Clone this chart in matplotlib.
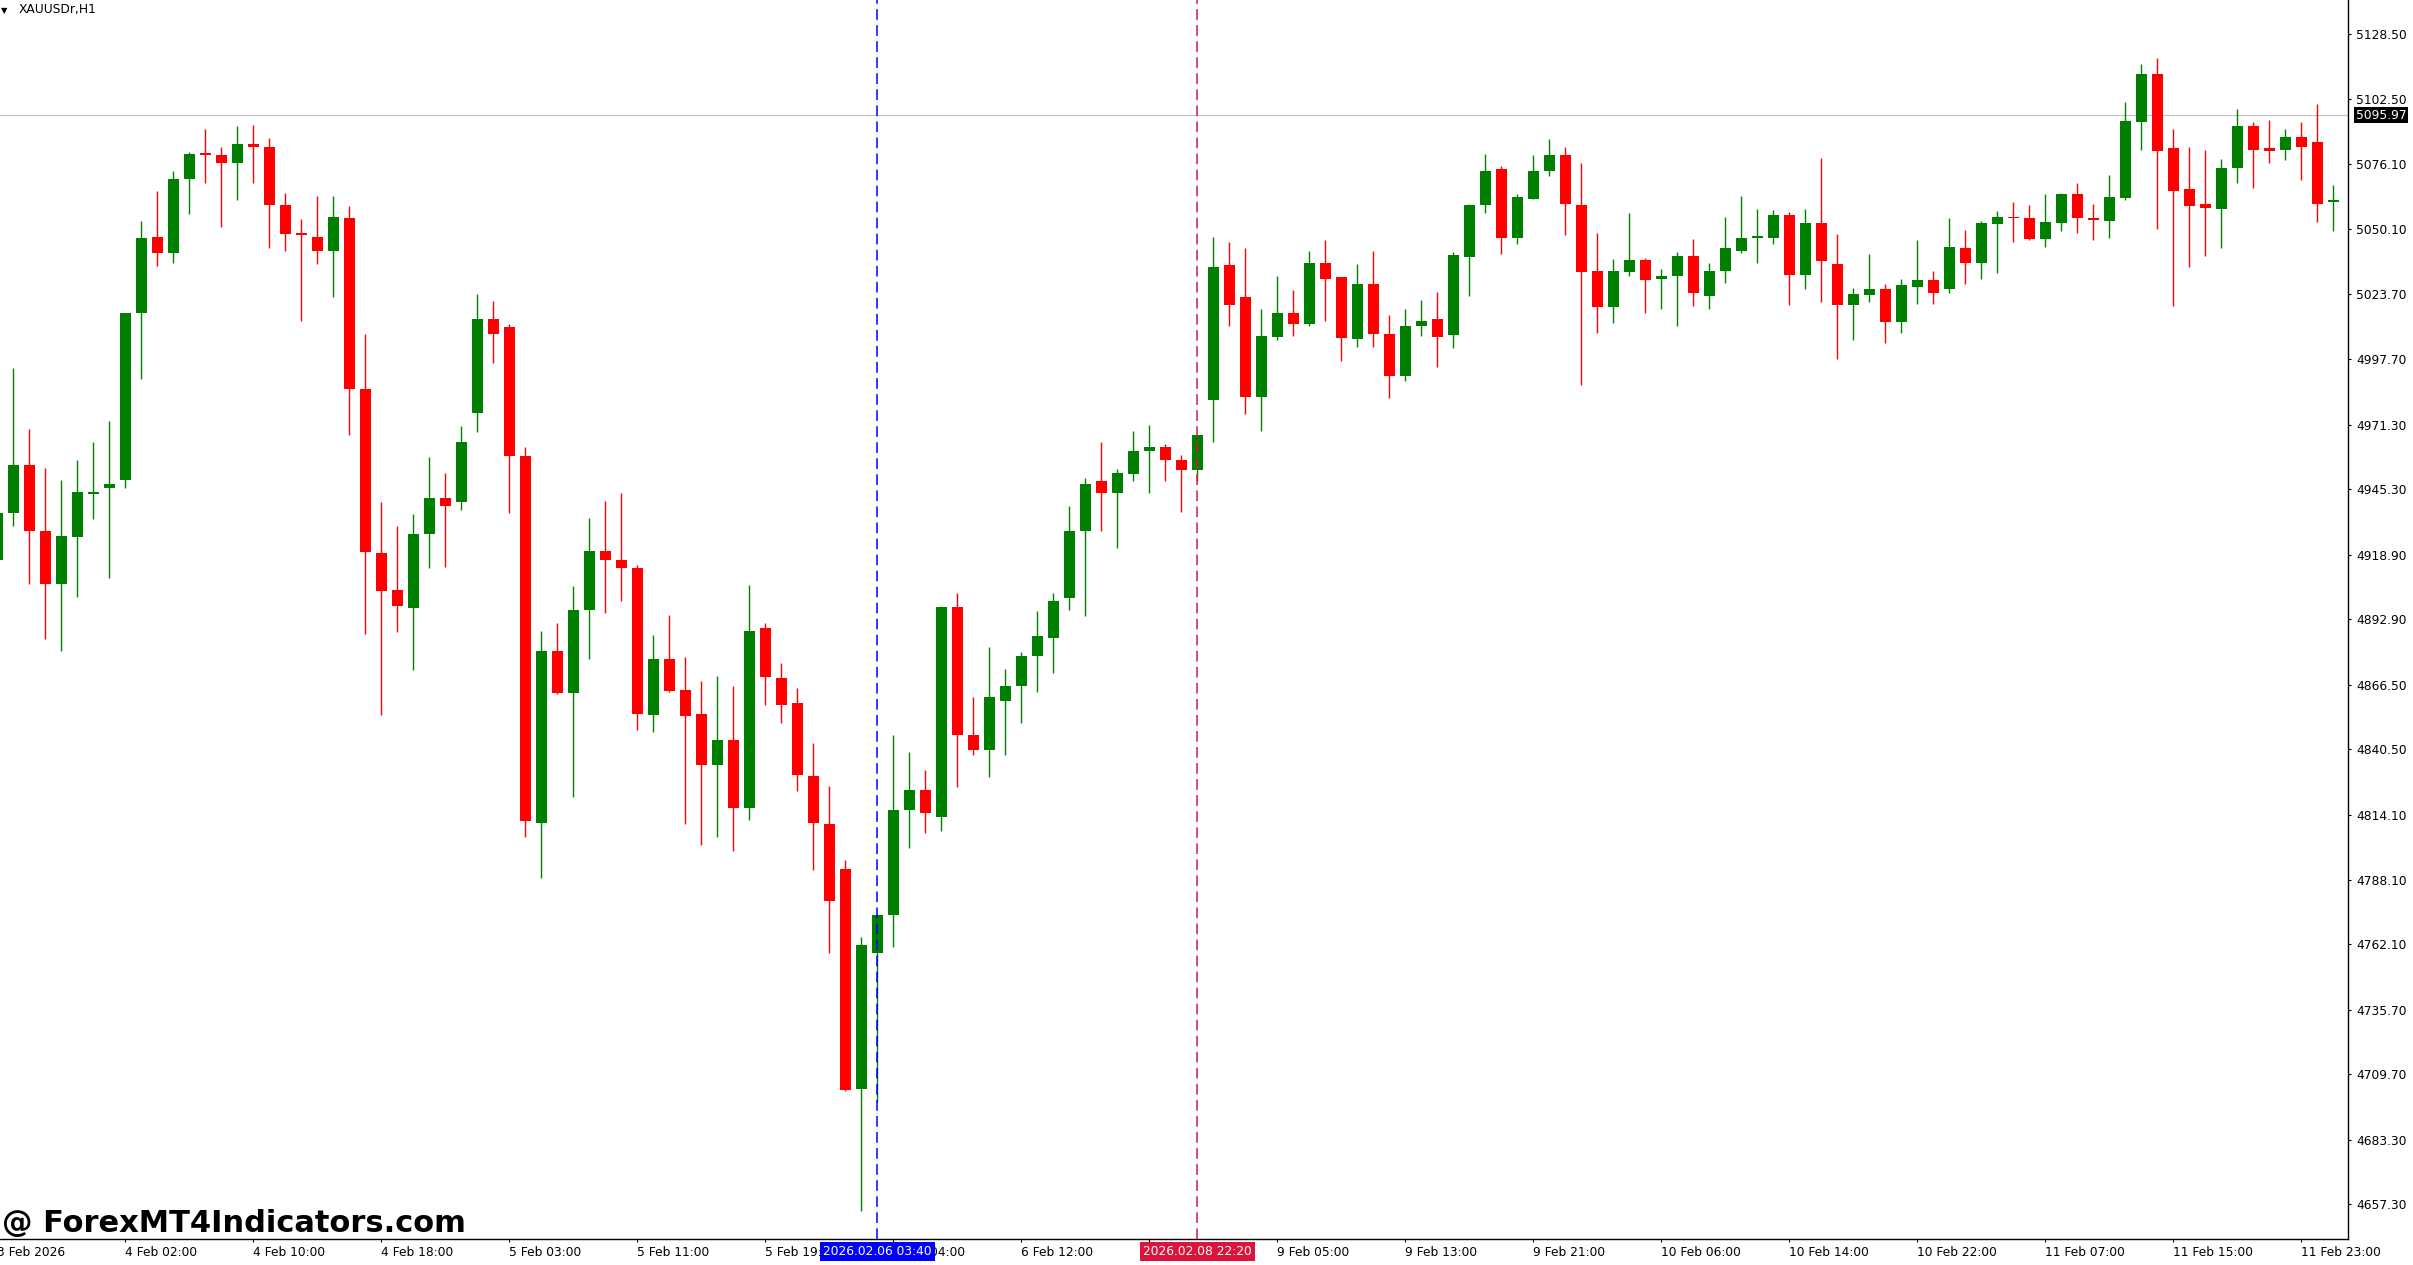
import matplotlib
matplotlib.use('Agg')
import matplotlib.pyplot as plt
import matplotlib.transforms as mtransforms

# XAUUSDr H1 candles (index 0 = 3 Feb 18:00)
opens = [4916.9, 4935.5, 4955.0, 4928.3, 4907.2, 4926.0, 4943.3, 4945.9, 4948.8, 5016.4,
         5046.9, 5040.4, 5070.3, 5080.7, 5079.8, 5076.5, 5084.3, 5083.0, 5059.9, 5048.6,
         5046.9, 5041.1, 5054.7, 4985.5, 4919.5, 4904.6, 4897.4, 4927.3, 4941.6, 4940.0,
         4976.1, 5013.8, 5010.5, 4958.5, 4810.7, 4880.2, 4863.3, 4896.5, 4920.2, 4916.6,
         4913.7, 4854.5, 4877.0, 4864.3, 4854.9, 4834.4, 4844.1, 4816.8, 4889.3, 4869.2,
         4859.1, 4829.8, 4810.3, 4792.5, 4703.7, 4758.7, 4773.9, 4816.2, 4824.3, 4813.3,
         4897.8, 4846.1, 4840.2, 4860.1, 4866.2, 4878.3, 4885.4, 4901.3, 4928.6, 4948.5,
         4943.6, 4951.4, 4960.8, 4962.4, 4956.9, 4953.0, 4981.3, 5035.6, 5022.6, 4982.6,
         5006.6, 5016.4, 5011.8, 5036.5, 5030.7, 5005.7, 5027.8, 5007.6, 4991.0, 5011.2,
         5013.8, 5007.3, 5038.8, 5059.6, 5074.2, 5046.3, 5062.2, 5073.6, 5079.8, 5059.6,
         5033.0, 5018.7, 5032.6, 5037.5, 5030.0, 5031.3, 5039.1, 5023.2, 5033.0, 5041.4,
         5046.5, 5046.3, 5055.7, 5031.7, 5052.5, 5035.9, 5019.3, 5023.5, 5025.8, 5012.8,
         5026.8, 5029.7, 5026.1, 5042.4, 5036.5, 5052.1, 5055.1, 5054.4, 5046.0, 5052.5,
         5064.2, 5054.7, 5053.4, 5062.5, 5093.1, 5112.3, 5082.7, 5066.1, 5060.3, 5058.3,
         5074.6, 5091.5, 5082.7, 5081.7, 5087.2, 5085.3, 5061.1]
highs = [4939.0, 4994.0, 4969.6, 4954.0, 4948.8, 4956.9, 4964.1, 4972.8, 5016.3, 5053.4,
         5065.5, 5073.6, 5081.1, 5090.2, 5083.0, 5091.5, 5092.1, 5086.9, 5064.5, 5054.1,
         5063.5, 5063.5, 5059.3, 5007.6, 4940.3, 4930.6, 4935.1, 4958.2, 4952.0, 4970.9,
         5023.9, 5020.9, 5011.8, 4962.1, 4888.0, 4891.3, 4906.5, 4933.8, 4940.7, 4943.6,
         4914.7, 4886.7, 4894.8, 4877.9, 4867.9, 4870.1, 4866.2, 4906.9, 4891.3, 4875.3,
         4865.3, 4843.2, 4825.9, 4796.0, 4764.8, 4774.1, 4846.1, 4839.3, 4832.1, 4898.4,
         4903.3, 4861.7, 4881.8, 4872.7, 4879.9, 4896.1, 4903.3, 4938.4, 4949.8, 4964.4,
         4953.3, 4968.9, 4971.2, 4963.4, 4958.9, 4967.2, 5046.9, 5045.0, 5042.4, 5017.7,
         5031.3, 5025.5, 5041.4, 5045.6, 5030.9, 5035.9, 5041.1, 5015.4, 5018.0, 5021.6,
         5024.8, 5040.8, 5060.3, 5080.4, 5075.5, 5064.2, 5079.8, 5086.3, 5083.0, 5076.5,
         5048.6, 5037.8, 5056.4, 5038.2, 5033.9, 5040.8, 5046.0, 5036.2, 5055.1, 5063.5,
         5058.3, 5057.7, 5057.0, 5058.3, 5078.5, 5047.9, 5026.5, 5040.1, 5027.8, 5030.0,
         5045.6, 5033.0, 5054.7, 5049.5, 5053.1, 5057.3, 5060.9, 5059.9, 5064.2, 5064.5,
         5068.7, 5060.3, 5072.0, 5101.2, 5116.5, 5119.1, 5090.2, 5083.3, 5081.7, 5078.1,
         5098.6, 5093.1, 5094.1, 5090.2, 5093.1, 5100.6, 5067.7]
lows = [4914.7, 4930.3, 4907.2, 4885.1, 4880.2, 4902.0, 4933.2, 4909.5, 4945.9, 4989.7,
        5035.2, 5036.2, 5056.0, 5068.7, 5050.8, 5061.6, 5068.4, 5042.4, 5041.1, 5013.1,
        5035.9, 5022.6, 4967.0, 4887.0, 4854.5, 4887.7, 4872.4, 4913.7, 4914.0, 4937.1,
        4968.3, 4996.2, 4935.5, 4805.1, 4788.9, 4863.0, 4821.4, 4877.0, 4895.5, 4900.4,
        4848.4, 4847.4, 4863.7, 4810.3, 4801.9, 4805.1, 4799.6, 4812.0, 4858.4, 4851.0,
        4823.7, 4792.1, 4758.7, 4702.8, 4654.7, 4698.5, 4760.9, 4800.9, 4806.8, 4807.7,
        4825.3, 4838.3, 4829.5, 4838.3, 4851.3, 4863.6, 4871.1, 4896.8, 4894.2, 4928.3,
        4921.5, 4948.5, 4943.9, 4948.5, 4936.1, 4948.5, 4964.4, 5011.2, 4975.4, 4968.6,
        5005.3, 5007.0, 5010.9, 5013.1, 4996.9, 5002.4, 5002.4, 4981.9, 4988.8, 5007.0,
        4994.6, 5002.1, 5023.2, 5056.4, 5040.1, 5044.0, 5062.0, 5071.6, 5047.6, 4987.1,
        5008.3, 5012.2, 5031.3, 5016.1, 5017.7, 5010.9, 5019.0, 5018.0, 5028.4, 5040.4,
        5036.5, 5044.0, 5019.3, 5025.8, 5020.6, 4997.9, 5005.3, 5020.6, 5004.0, 5008.3,
        5020.0, 5020.0, 5024.2, 5028.1, 5030.0, 5032.3, 5045.0, 5045.6, 5043.0, 5049.2,
        5048.6, 5045.6, 5046.6, 5061.9, 5082.0, 5049.9, 5019.0, 5034.9, 5039.1, 5042.4,
        5068.4, 5066.4, 5076.5, 5077.8, 5069.7, 5052.8, 5049.2]
closes = [4935.5, 4955.0, 4928.6, 4907.2, 4926.4, 4944.2, 4944.2, 4947.2, 5016.1, 5046.6,
          5040.4, 5070.3, 5080.4, 5079.8, 5076.5, 5084.3, 5083.3, 5059.9, 5048.2, 5047.6,
          5041.1, 5055.1, 4985.5, 4919.9, 4904.3, 4898.1, 4927.3, 4941.6, 4938.4, 4964.1,
          5013.8, 5007.9, 4958.5, 4811.6, 4880.2, 4863.3, 4896.8, 4920.5, 4916.6, 4913.4,
          4854.9, 4877.0, 4864.0, 4853.9, 4834.4, 4844.1, 4816.8, 4888.3, 4869.5, 4858.4,
          4830.2, 4810.7, 4779.5, 4703.4, 4761.9, 4773.9, 4816.2, 4824.3, 4814.9, 4897.8,
          4846.1, 4840.2, 4861.4, 4866.2, 4878.3, 4886.1, 4900.4, 4928.3, 4947.2, 4943.6,
          4951.7, 4960.8, 4962.4, 4956.9, 4953.0, 4967.0, 5034.9, 5019.6, 4982.6, 5007.0,
          5016.4, 5011.8, 5036.5, 5030.0, 5006.3, 5027.8, 5007.6, 4991.0, 5011.2, 5013.1,
          5006.6, 5039.5, 5059.6, 5073.3, 5046.3, 5062.9, 5073.6, 5079.8, 5060.3, 5032.6,
          5018.7, 5033.0, 5037.5, 5029.7, 5031.3, 5039.1, 5024.2, 5033.0, 5042.4, 5046.6,
          5046.7, 5055.7, 5031.7, 5052.5, 5037.2, 5019.6, 5023.9, 5025.8, 5012.8, 5027.4,
          5029.4, 5024.5, 5042.7, 5036.5, 5052.5, 5055.1, 5054.4, 5046.0, 5052.8, 5064.2,
          5054.4, 5053.8, 5062.9, 5093.4, 5112.3, 5081.4, 5065.5, 5059.3, 5058.6, 5074.6,
          5091.5, 5081.7, 5081.4, 5087.2, 5083.3, 5060.3, 5061.2]

price_ticks = [5128.50, 5102.50, 5076.10, 5050.10, 5023.70, 4997.70, 4971.30, 4945.30,
               4918.90, 4892.90, 4866.50, 4840.50, 4814.10, 4788.10, 4762.10, 4735.70,
               4709.70, 4683.30, 4657.30]
# '6 Feb 20:00' sits fully under the red date box in the reference, so it is left blank
time_labels = ['4 Feb 02:00', '4 Feb 10:00', '4 Feb 18:00', '5 Feb 03:00', '5 Feb 11:00',
               '5 Feb 19:00', '6 Feb 04:00', '6 Feb 12:00', '', '9 Feb 05:00',
               '9 Feb 13:00', '9 Feb 21:00', '10 Feb 06:00', '10 Feb 14:00', '10 Feb 22:00',
               '11 Feb 07:00', '11 Feb 15:00', '11 Feb 23:00']
first_label = '3 Feb 2026'
current_price = 5095.97
vlines = [(55, '2026.02.06 03:40', '#0000FF'), (75, '2026.02.08 22:20', '#DC143C')]

W, H = 2413, 1265
fig = plt.figure(figsize=(W / 100, H / 100), dpi=100)
fig.patch.set_facecolor('white')
ax = fig.add_axes([0, (H - 1239.3) / H, 2348.3 / W, 1239.3 / H])

n = len(opens)
xs = list(range(n))
cols = ['#008000' if c >= o else '#FF0000' for o, c in zip(opens, closes)]

# wicks then bodies
ax.vlines(xs, lows, highs, colors=cols, linewidth=1.0, zorder=2)
bottoms = [min(o, c) for o, c in zip(opens, closes)]
heights = [max(abs(c - o), 0.6) for o, c in zip(opens, closes)]
ax.bar(xs, heights, bottom=bottoms, width=0.69, color=cols, linewidth=0, zorder=3)

# current price line
ax.axhline(current_price, color='#C0C0C0', linewidth=0.8, zorder=1)

# vertical dashed lines with date boxes
btrans = mtransforms.blended_transform_factory(ax.transData, ax.transAxes)
for idx, txt, col in vlines:
    ax.axvline(idx, color=col, linewidth=1.1, linestyle=(0, (7, 3.5)), zorder=4)
    ax.annotate(txt, xy=(idx, 0), xycoords=btrans, xytext=(0, -8.9),
                textcoords='offset points', ha='center', va='center',
                color='white', fontsize=8.8, annotation_clip=False, zorder=10,
                bbox=dict(boxstyle='square,pad=0.25', fc=col, ec='none'))

ax.set_xlim(0.167, 146.94)
ax.set_ylim(4643.2, 5142.3)

for s in ['left', 'top']:
    ax.spines[s].set_visible(False)
for s in ['right', 'bottom']:
    ax.spines[s].set_linewidth(1.0)
    ax.spines[s].set_color('black')

ax.yaxis.tick_right()
ax.set_yticks(price_ticks)
ax.set_yticklabels(['%.2f' % p for p in price_ticks])
ax.tick_params(axis='y', direction='out', length=2.4, width=0.8, pad=3.4,
               labelsize=8.8, colors='black')

tick_idx = list(range(8, 8 * (len(time_labels) + 1), 8))
ax.set_xticks(tick_idx)
ax.set_xticklabels(time_labels, ha='left')
ax.tick_params(axis='x', direction='out', length=2.4, width=0.8, pad=2.6,
               labelsize=8.8, colors='black')
for lab in ax.get_xticklabels():
    lab.set_zorder(2)

# first date label sits left of the visible area
ax.annotate(first_label, xy=(0, 0), xycoords=btrans, xytext=(0, -4.6),
            textcoords='offset points', ha='left', va='top', fontsize=8.8,
            annotation_clip=False)

# price tag on the right axis
ytrans = mtransforms.blended_transform_factory(ax.transAxes, ax.transData)
ax.annotate('%.2f' % current_price, xy=(1, current_price), xycoords=ytrans,
            xytext=(5.5, 0), textcoords='offset points', ha='left', va='center',
            color='white', fontsize=8.8, annotation_clip=False, zorder=10,
            bbox=dict(boxstyle='square,pad=0.15', fc='black', ec='none'))

# symbol caption and watermark
fig.text(0.5 / W, 1 - 11 / H, '\u25bc', fontsize=6, va='center', ha='left')
fig.text(18.3 / W, 1 - 10 / H, 'XAUUSDr,H1', fontsize=8.8, va='center', ha='left')
fig.text(2 / W, (H - 1232) / H, '@ ForexMT4Indicators.com', fontsize=22,
         fontweight='bold', va='baseline', ha='left', color='black')

fig.savefig('out.png', dpi=100)
